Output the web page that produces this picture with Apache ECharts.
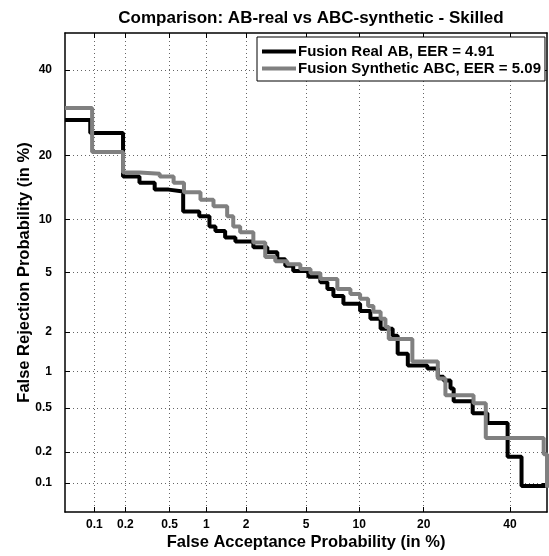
<!DOCTYPE html>
<html>
<head>
<meta charset="utf-8">
<script src="https://cdn.jsdelivr.net/npm/echarts@6/dist/echarts.min.js"></script>
<style>
html,body{margin:0;padding:0;background:#fff;}
#chart{width:549px;height:556px;}
</style>
</head>
<body>
<div id="chart"></div>
<script>
// Tick labels (percent) shared by both probit axes
const tickValues = [0.1, 0.2, 0.5, 1, 2, 5, 10, 20, 40];
const axisRange = [0.05, 50];

// Fusion Real AB (step corners, percent)
const realFA = [0.05, 0.091, 0.19, 0.27, 0.37, 0.49, 0.65, 0.88, 1.06, 1.18, 1.40, 1.67, 2.25, 2.81, 3.28, 3.70, 4.16, 5.17, 6.09, 6.69, 7.24, 8.23, 10.1, 11.4, 12.8, 14.6, 15.4, 17.1, 20.7, 22.8, 24.0, 25.5, 26.2, 30.6, 34.2, 39.4, 43.1, 50];
const realFR = [27.5, 24.6, 16.2, 15.2, 14.1, 13.8, 11.0, 10.4, 9.2, 8.7, 8.0, 7.6, 7.05, 6.6, 6.0, 5.5, 5.1, 4.7, 4.35, 3.93, 3.54, 3.14, 2.81, 2.48, 2.11, 1.88, 1.38, 1.12, 1.06, 0.91, 0.85, 0.73, 0.57, 0.45, 0.37, 0.18, 0.093, 0.093];

// Fusion Synthetic ABC (step corners, percent)
const synFA = [0.05, 0.095, 0.19, 0.27, 0.41, 0.54, 0.66, 0.90, 1.14, 1.45, 1.61, 1.81, 2.25, 2.72, 3.18, 3.81, 4.61, 5.32, 6.09, 7.62, 8.98, 10.1, 11.1, 11.8, 12.8, 13.5, 14.0, 17.9, 22.8, 24.4, 30.8, 33.8, 49.1, 50];
const synFR = [30.3, 20.7, 16.9, 16.7, 16.2, 15.2, 13.7, 12.6, 11.7, 10.4, 9.2, 8.55, 7.5, 6.2, 5.85, 5.6, 5.25, 4.95, 4.55, 3.93, 3.65, 3.39, 3.04, 2.77, 2.48, 2.17, 1.78, 1.20, 0.88, 0.64, 0.55, 0.27, 0.19, 0.089];

const seriesNames = ['Fusion Real AB, EER = 4.91', 'Fusion Synthetic ABC, EER = 5.09'];

// Normal deviate (probit) scale, as used by DET plots
function probit(p) {
  const a=[-3.969683028665376e+01,2.209460984245205e+02,-2.759285104469687e+02,1.383577518672690e+02,-3.066479806614716e+01,2.506628277459239e+00];
  const b=[-5.447609879822406e+01,1.615858368580409e+02,-1.556989798598866e+02,6.680131188771972e+01,-1.328068155288572e+01];
  const c=[-7.784894002430293e-03,-3.223964580411365e-01,-2.400758277161838e+00,-2.549732539343734e+00,4.374664141464968e+00,2.938163982698783e+00];
  const d=[7.784695709041462e-03,3.224671290700398e-01,2.445134137142996e+00,3.754408661907416e+00];
  const plow=0.02425, phigh=1-plow;
  let q, r;
  if (p < plow) { q=Math.sqrt(-2*Math.log(p)); return (((((c[0]*q+c[1])*q+c[2])*q+c[3])*q+c[4])*q+c[5])/((((d[0]*q+d[1])*q+d[2])*q+d[3])*q+1); }
  if (p > phigh) { q=Math.sqrt(-2*Math.log(1-p)); return -(((((c[0]*q+c[1])*q+c[2])*q+c[3])*q+c[4])*q+c[5])/((((d[0]*q+d[1])*q+d[2])*q+d[3])*q+1); }
  q=p-0.5; r=q*q;
  return (((((a[0]*r+a[1])*r+a[2])*r+a[3])*r+a[4])*r+a[5])*q/(((((b[0]*r+b[1])*r+b[2])*r+b[3])*r+b[4])*r+1);
}
const pz = v => probit(v / 100);
const tickZ = tickValues.map(pz);
function labelFor(z) {
  for (let i = 0; i < tickZ.length; i++) if (Math.abs(tickZ[i] - z) < 1e-6) return String(tickValues[i]);
  return '';
}

const FONT = 'Liberation Sans, Arial, Helvetica, sans-serif';
const gridLine = { show: true, lineStyle: { color: '#666', width: 1, type: [1, 3] } };

function mkAxis(pos, isX, main) {
  return {
    type: 'value',
    position: pos,
    min: pz(axisRange[0]),
    max: pz(axisRange[1]),
    axisLine: { show: true, onZero: false, lineStyle: { color: '#000', width: 1.5 } },
    axisTick: { show: true, inside: true, length: 5, customValues: tickZ, lineStyle: { color: '#000', width: 1 } },
    axisLabel: main ? {
      show: true, customValues: tickZ, formatter: labelFor, color: '#000',
      fontFamily: FONT, fontWeight: 'bold', fontSize: 12, margin: isX ? 7 : 13
    } : { show: false },
    splitLine: main ? Object.assign({ customValues: tickZ }, gridLine) : { show: false },
    name: main ? (isX ? 'False Acceptance Probability (in %)' : 'False Rejection Probability (in %)') : '',
    nameLocation: 'middle',
    nameMoveOverlap: false,
    nameGap: isX ? 22 : 32,
    nameTextStyle: { color: '#000', fontFamily: FONT, fontWeight: 'bold', fontSize: 16.5 }
  };
}

const chart = echarts.init(document.getElementById('chart'), null, { renderer: 'canvas' });
chart.setOption({
  animation: false,
  backgroundColor: '#fff',
  title: {
    text: 'Comparison: AB-real vs ABC-synthetic - Skilled',
    left: 306, top: 5, textAlign: 'center',
    textStyle: { color: '#000', fontFamily: FONT, fontWeight: 'bold', fontSize: 17 }
  },
  grid: { left: 65, right: 2, top: 33, bottom: 42, containLabel: false },
  legend: {
    data: seriesNames,
    orient: 'vertical',
    left: 257, top: 37,
    backgroundColor: '#fff',
    borderColor: '#000', borderWidth: 1,
    padding: [7, 4, 5, 5],
    itemGap: 2,
    itemWidth: 34, itemHeight: 4,
    icon: 'rect',
    textStyle: { color: '#000', fontFamily: FONT, fontWeight: 'bold', fontSize: 15, padding: [0, 0, 0, -3] }
  },
  xAxis: [mkAxis('bottom', true, true), mkAxis('top', true, false)],
  yAxis: [mkAxis('left', false, true), mkAxis('right', false, false)],
  series: [
    {
      name: seriesNames[0], type: 'line', step: 'end', showSymbol: false,
      xAxisIndex: 0, yAxisIndex: 0,
      color: '#000', lineStyle: { color: '#000', width: 4 },
      data: realFA.map((v, i) => [pz(v), pz(realFR[i])])
    },
    {
      name: seriesNames[1], type: 'line', step: 'end', showSymbol: false,
      xAxisIndex: 0, yAxisIndex: 0,
      color: '#808080', lineStyle: { color: '#808080', width: 4 },
      data: synFA.map((v, i) => [pz(v), pz(synFR[i])])
    }
  ]
});
</script>
</body>
</html>
